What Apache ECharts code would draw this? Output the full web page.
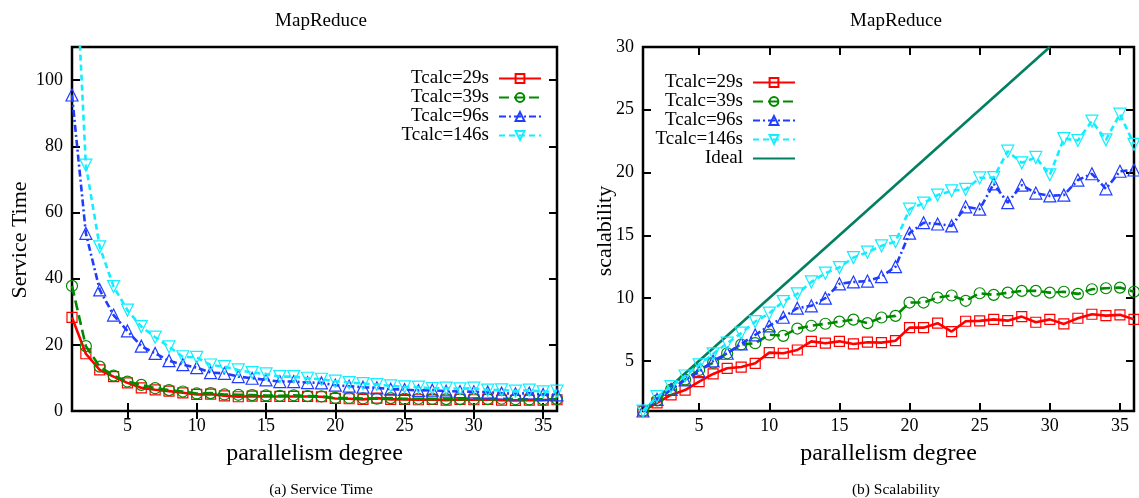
<!DOCTYPE html>
<html><head><meta charset="utf-8">
<script src="https://cdn.jsdelivr.net/npm/echarts@6/dist/echarts.min.js"></script>
<style>html,body{margin:0;padding:0;background:#fff}#c{width:1139px;height:498px}</style>
</head><body><div id="c"></div>
<script>
const degrees = [1,2,3,4,5,6,7,8,9,10,11,12,13,14,15,16,17,18,19,20,21,22,23,24,25,26,27,28,29,30,31,32,33,34,35,36];
const seriesNames = ['Tcalc=29s','Tcalc=39s','Tcalc=96s','Tcalc=146s'];
const idealName = 'Ideal';
// (a) Service Time
const st29 = [28.3,17.3,12.4,10.4,8.5,7.0,6.4,6.0,5.5,5.0,5.1,4.6,4.3,4.5,4.4,4.4,4.4,4.4,4.3,3.8,3.7,3.5,3.9,3.5,3.5,3.4,3.5,3.3,3.5,3.4,3.5,3.3,3.2,3.3,3.3,3.4];
const st39 = [37.8,19.6,13.4,10.7,8.9,7.9,6.9,6.3,5.9,5.3,5.4,5.0,4.9,4.8,4.7,4.6,4.75,4.5,4.4,3.95,3.95,3.8,3.7,3.9,3.65,3.7,3.65,3.6,3.6,3.65,3.6,3.7,3.55,3.5,3.5,3.6];
const st96 = [95.5,53.7,36.6,29.0,24.2,19.6,17.4,15.2,14.0,13.1,11.6,11.4,10.4,9.9,9.4,8.9,8.9,8.6,8.5,7.8,7.5,7.2,7.0,6.6,6.5,6.2,6.3,6.0,5.9,5.8,5.7,5.4,5.2,5.4,5.0,4.9];
const st146 = [159,74.3,49.6,37.6,30.5,25.5,22.3,19.4,16.4,16.2,13.9,13.4,12.4,11.6,11.2,10.4,10.4,9.9,9.6,9.0,8.6,8.3,8.0,7.6,7.3,7.2,6.8,6.9,6.7,6.9,6.3,6.4,6.0,6.3,5.8,6.0];
// (b) Scalability
const sc29 = [1,1.64,2.28,2.67,3.34,3.95,4.4,4.5,4.8,5.65,5.6,5.86,6.55,6.4,6.55,6.34,6.48,6.45,6.6,7.64,7.64,8.0,7.33,8.15,8.18,8.3,8.2,8.52,8.07,8.3,7.94,8.39,8.71,8.6,8.66,8.3];
const sc39 = [1,1.85,2.7,3.5,4.27,4.85,5.6,6.3,6.4,7.08,6.99,7.57,7.79,7.95,8.12,8.28,8.0,8.45,8.58,9.64,9.64,10.04,10.2,9.78,10.38,10.25,10.43,10.57,10.57,10.43,10.5,10.33,10.7,10.78,10.83,10.5];
const sc96 = [1,1.93,2.73,3.47,4.13,4.99,5.6,6.34,7.06,7.78,8.47,9.19,9.38,9.99,11.13,11.28,11.35,11.7,12.5,15.17,16.0,15.9,15.75,17.27,17.08,19.1,17.6,19.0,18.36,18.14,18.2,19.4,19.9,18.7,20.1,20.2];
const sc146 = [1,2.14,2.94,3.79,4.67,5.55,6.4,7.2,8.12,8.79,9.72,10.33,11.28,11.98,12.43,13.22,13.65,14.16,14.5,17.08,17.56,18.2,18.54,18.65,19.57,19.6,21.7,20.77,21.2,19.82,22.7,22.55,24.1,22.6,24.65,22.25];
const idealX = [1,30];
const idealY = [1,30];
// ticks
const xTicks = [5,10,15,20,25,30,35];
const stTicks = [0,20,40,60,80,100];
const scTicks = [5,10,15,20,25,30];
const titles = ['MapReduce','MapReduce'];
const captions = ['(a) Service Time','(b) Scalability'];
const yNames = ['Service Time','scalability'];
const xName = 'parallelism degree';

const FONT = 'Liberation Serif';
const styles = [
  {color:'#ff0000', symbol:'rect', rotate:0, type:'solid', size:10},
  {color:'#008a00', symbol:'circle', rotate:0, type:[10,5], size:11},
  {color:'#1f3cff', symbol:'triangle', rotate:0, type:[7,3,2,3], size:12},
  {color:'#11eeff', symbol:'triangle', rotate:180, type:[6,4], size:12}
];
const zip = (xs, ys) => xs.map((x,i)=>[x, ys[i]]);

function xAx(grid, pos){
  return {type:'value', gridIndex:grid, min:1, max:36, position:pos,
    axisLine:{show:false}, splitLine:{show:false},
    axisTick:{show:true, inside:true, length:8, customValues:xTicks, lineStyle:{color:'#000', width:2}},
    axisLabel:{show:pos==='bottom', customValues:xTicks, color:'#000', fontFamily:FONT, fontSize:18, margin:6},
    name: pos==='bottom'? xName : '', nameLocation:'middle', nameGap:31,
    nameTextStyle:{color:'#000', fontFamily:FONT, fontSize:24}};
}
function yAx(grid, pos, min, max, ticks){
  return {type:'value', gridIndex:grid, min:min, max:max, position:pos,
    axisLine:{show:false}, splitLine:{show:false},
    axisTick:{show:true, inside:true, length:8, customValues:ticks, lineStyle:{color:'#000', width:2}},
    axisLabel:{show:pos==='left', customValues:ticks, color:'#000', fontFamily:FONT, fontSize:18, margin:9}};
}
function mk(name, idx, data, xi, yi){
  const s = styles[idx];
  return {name:name, type:'line', xAxisIndex:xi, yAxisIndex:yi, data:data,
    symbol:s.symbol, symbolSize:s.size, symbolRotate:s.rotate, showSymbol:true, clip:true,
    lineStyle:{color:s.color, width:2.6, type:s.type},
    itemStyle:{color:'rgba(255,255,255,0)', borderColor:s.color, borderWidth:1.2},
    emphasis:{disabled:true}, animation:false, z:2+idx};
}
const stData = [st29, st39, st96, st146];
const scData = [sc29, sc39, sc96, sc146];
const series = [];
seriesNames.forEach((n,i)=>series.push(mk(n,i,zip(degrees, stData[i]),0,0)));
seriesNames.forEach((n,i)=>series.push(mk(n,i,zip(degrees, scData[i]),2,2)));
series.push({name:idealName, type:'line', xAxisIndex:2, yAxisIndex:2, data:zip(idealX, idealY),
  symbol:'none', lineStyle:{color:'#008060', width:2.6}, itemStyle:{color:'#008060'}, animation:false, z:1});

const legendText = {color:'#000', fontFamily:FONT, fontSize:19, lineHeight:17.5, padding:[0,5,0,0]};
const tStyle = (fs)=>({fontFamily:FONT, fontSize:fs, fontWeight:'normal', color:'#000'});
const option = {
  backgroundColor:'#fff',
  animation:false,
  title:[
    {text:titles[0], left:316, top:7, textAlign:'center', textStyle:tStyle(19)},
    {text:titles[1], left:891, top:7, textAlign:'center', textStyle:tStyle(19)},
    {text:captions[0], left:316, top:477, textAlign:'center', textStyle:tStyle(15.5)},
    {text:captions[1], left:891, top:477, textAlign:'center', textStyle:tStyle(15.5)}
  ],
  legend:[
    {data:seriesNames, orient:'vertical', align:'right', right:597, top:69, itemWidth:42, itemHeight:11, itemGap:0,
      textStyle:legendText, selectedMode:false, padding:0},
    {data:seriesNames.concat([{name:idealName, itemStyle:{opacity:0}}]), orient:'vertical', align:'right', right:343, top:73, itemWidth:42, itemHeight:11, itemGap:0,
      textStyle:legendText, selectedMode:false, padding:0}
  ],
  grid:[
    {left:72, top:47, right:582, bottom:87, show:true, borderColor:'#000', borderWidth:2.5, backgroundColor:'transparent'},
    {left:643, top:47, right:5, bottom:87, show:true, borderColor:'#000', borderWidth:2.5, backgroundColor:'transparent'}
  ],
  xAxis:[xAx(0,'bottom'), xAx(0,'top'), xAx(1,'bottom'), xAx(1,'top')],
  yAxis:[yAx(0,'left',0,110,stTicks), yAx(0,'right',0,110,stTicks),
         yAx(1,'left',1,30,scTicks), yAx(1,'right',1,30,scTicks)],
  graphic:[
    {type:'text', x:20, y:240, rotation:Math.PI/2, style:{text:yNames[0], fontFamily:FONT, fontSize:22, fill:'#000', align:'center', verticalAlign:'middle'}},
    {type:'text', x:605, y:231, rotation:Math.PI/2, style:{text:yNames[1], fontFamily:FONT, fontSize:22, fill:'#000', align:'center', verticalAlign:'middle'}}
  ],
  series:series
};
const chart = echarts.init(document.getElementById('c'), null, {renderer:'canvas'});
chart.setOption(option);
</script>
</body></html>
